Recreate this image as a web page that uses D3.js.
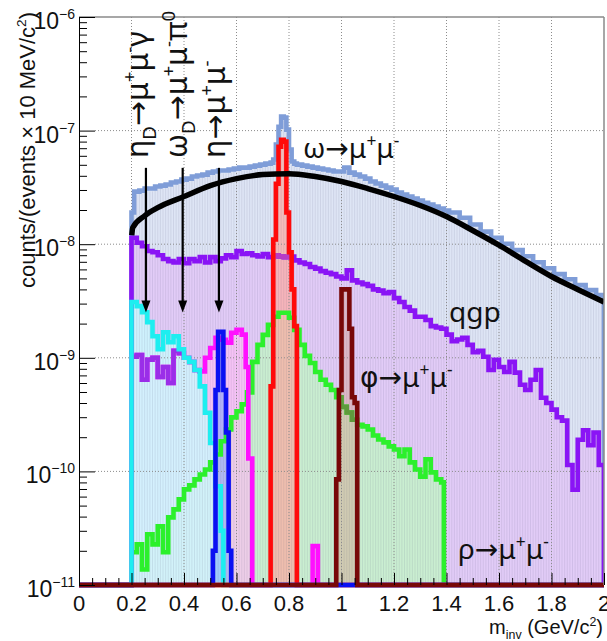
<!DOCTYPE html>
<html><head><meta charset="utf-8">
<script src="https://cdn.jsdelivr.net/npm/d3@7"></script>
<style>body{margin:0;background:#fff}svg{display:block}</style>
</head><body>
<svg id="chart" width="607" height="641"></svg>
<script>
// ---------------- data ----------------
const xTickValues = [0, 0.2, 0.4, 0.6, 0.8, 1.0, 1.2, 1.4, 1.6, 1.8, 2.0];
const xTickLabels = ["0", "0.2", "0.4", "0.6", "0.8", "1", "1.2", "1.4", "1.6", "1.8", "2"];
const yDecades = [1e-11, 1e-10, 1e-9, 1e-8, 1e-7, 1e-6];
const yExponents = ["\u221211", "\u221210", "\u22129", "\u22128", "\u22127", "\u22126"];

// histograms: [lower bin edge, counts]; last entry = upper edge with 0
const totalHist = [[0.20,1.90e-8],[0.21,2.90e-8],[0.23,2.96e-8],[0.25,3.09e-8],[0.27,3.09e-8],[0.29,3.22e-8],[0.31,3.28e-8],[0.33,3.35e-8],[0.35,3.49e-8],[0.37,3.56e-8],[0.39,3.70e-8],[0.41,3.78e-8],[0.43,3.94e-8],[0.45,4.02e-8],[0.47,4.10e-8],[0.49,4.27e-8],[0.51,4.36e-8],[0.53,4.45e-8],[0.55,4.45e-8],[0.57,4.54e-8],[0.59,4.63e-8],[0.61,4.72e-8],[0.63,4.72e-8],[0.65,4.82e-8],[0.67,4.92e-8],[0.69,5.02e-8],[0.71,5.12e-8],[0.73,5.23e-8],[0.74,5.56e-8],[0.75,7.53e-8],[0.76,1.08e-7],[0.77,1.33e-7],[0.78,1.30e-7],[0.79,1.02e-7],[0.80,6.81e-8],[0.81,5.34e-8],[0.82,5.12e-8],[0.83,5.02e-8],[0.85,4.92e-8],[0.87,4.82e-8],[0.89,4.72e-8],[0.91,4.63e-8],[0.93,4.54e-8],[0.95,4.45e-8],[0.97,4.36e-8],[0.99,4.36e-8],[1.01,4.72e-8],[1.03,4.27e-8],[1.05,4.10e-8],[1.07,3.94e-8],[1.09,3.78e-8],[1.11,3.56e-8],[1.13,3.42e-8],[1.15,3.28e-8],[1.17,3.15e-8],[1.19,3.02e-8],[1.21,2.85e-8],[1.23,2.73e-8],[1.25,2.63e-8],[1.27,2.52e-8],[1.29,2.42e-8],[1.31,2.32e-8],[1.33,2.23e-8],[1.35,2.14e-8],[1.37,2.06e-8],[1.39,1.98e-8],[1.41,1.90e-8],[1.45,1.71e-8],[1.49,1.49e-8],[1.53,1.29e-8],[1.57,1.14e-8],[1.61,1.01e-8],[1.65,8.86e-9],[1.69,7.84e-9],[1.73,6.94e-9],[1.77,6.15e-9],[1.81,5.45e-9],[1.85,4.92e-9],[1.89,4.36e-9],[1.93,3.94e-9],[1.97,3.56e-9],[2.00,0]];

const qgpHist = [[0.20,1.14e-8],[0.22,1.03e-8],[0.24,9.6e-9],[0.26,8.7e-9],[0.28,8.5e-9],[0.30,8.0e-9],[0.32,7.4e-9],[0.34,7.1e-9],[0.36,6.9e-9],[0.38,7.4e-9],[0.40,6.8e-9],[0.42,7.4e-9],[0.44,7.1e-9],[0.46,7.7e-9],[0.48,6.9e-9],[0.50,7.7e-9],[0.52,7.1e-9],[0.54,7.5e-9],[0.56,8.0e-9],[0.58,7.7e-9],[0.60,8.7e-9],[0.62,8.2e-9],[0.64,8.3e-9],[0.66,8.0e-9],[0.68,7.8e-9],[0.70,8.2e-9],[0.72,7.7e-9],[0.74,8.0e-9],[0.76,7.8e-9],[0.78,7.7e-9],[0.80,7.8e-9],[0.82,7.2e-9],[0.84,6.9e-9],[0.86,6.7e-9],[0.88,6.3e-9],[0.90,6.1e-9],[0.92,5.8e-9],[0.94,5.6e-9],[0.96,5.45e-9],[0.98,5.2e-9],[1.00,5.0e-9],[1.02,5.9e-9],[1.04,4.8e-9],[1.06,4.6e-9],[1.08,4.45e-9],[1.10,4.3e-9],[1.12,4.0e-9],[1.14,3.9e-9],[1.16,3.7e-9],[1.18,3.8e-9],[1.20,3.35e-9],[1.22,3.1e-9],[1.24,2.8e-9],[1.26,2.6e-9],[1.28,2.3e-9],[1.30,2.3e-9],[1.32,2.15e-9],[1.34,1.9e-9],[1.36,1.85e-9],[1.38,1.8e-9],[1.40,1.6e-9],[1.42,1.4e-9],[1.44,1.45e-9],[1.46,1.5e-9],[1.48,1.3e-9],[1.50,1.12e-9],[1.52,1.15e-9],[1.54,1.02e-9],[1.56,7.8e-10],[1.58,9.6e-10],[1.60,8.3e-10],[1.62,7.5e-10],[1.64,9.2e-10],[1.66,7.4e-10],[1.68,5.8e-10],[1.70,5.2e-10],[1.72,6.4e-10],[1.74,7.8e-10],[1.76,4.45e-10],[1.78,4.0e-10],[1.80,3.5e-10],[1.82,3.0e-10],[1.84,2.8e-10],[1.86,1.14e-10],[1.88,6.9e-11],[1.90,1.9e-10],[1.92,2.3e-10],[1.94,1.7e-10],[1.96,2.2e-10],[1.98,1.14e-10],[2.00,0]];

const rhoHist = [[0.20,1.94e-11],[0.22,2.28e-11],[0.24,1.37e-11],[0.26,2.8e-11],[0.28,2.28e-11],[0.30,3.28e-11],[0.32,1.94e-11],[0.34,3.94e-11],[0.36,4.63e-11],[0.38,5.67e-11],[0.40,6.94e-11],[0.42,7.53e-11],[0.44,8.5e-11],[0.46,9.4e-11],[0.48,1.04e-10],[0.50,1.2e-10],[0.52,1.41e-10],[0.54,1.84e-10],[0.56,2.34e-10],[0.58,2.99e-10],[0.60,3.38e-10],[0.62,3.89e-10],[0.64,4.96e-10],[0.66,9.2e-10],[0.68,1.3e-9],[0.70,1.59e-9],[0.72,1.95e-9],[0.74,2.3e-9],[0.76,2.49e-9],[0.78,2.49e-9],[0.80,2.25e-9],[0.82,1.76e-9],[0.84,1.3e-9],[0.86,1.04e-9],[0.88,9.0e-10],[0.90,7.5e-10],[0.92,6.4e-10],[0.94,5.8e-10],[0.96,5.2e-10],[0.98,4.5e-10],[1.00,3.7e-10],[1.02,3.3e-10],[1.04,2.85e-10],[1.06,2.57e-10],[1.08,2.49e-10],[1.10,2.34e-10],[1.12,2.07e-10],[1.14,1.91e-10],[1.16,1.8e-10],[1.18,1.66e-10],[1.20,1.56e-10],[1.22,1.36e-10],[1.24,1.56e-10],[1.26,1.2e-10],[1.28,1.04e-10],[1.30,9.0e-11],[1.32,1.28e-10],[1.34,9.8e-11],[1.36,8.5e-11],[1.38,8.0e-11],[1.39,0]];

const omegaDalitzHist = [[0.20,1.02e-9],[0.22,1.06e-9],[0.24,6.4e-10],[0.26,9.6e-10],[0.28,1.0e-9],[0.30,6.8e-10],[0.32,8.3e-10],[0.34,6.0e-10],[0.36,1.15e-9],[0.38,1.1e-9],[0.40,1.0e-9],[0.42,9.2e-10],[0.44,7.8e-10],[0.46,7.6e-10],[0.48,1.0e-9],[0.50,1.22e-9],[0.52,1.5e-9],[0.54,1.44e-9],[0.56,1.36e-9],[0.58,1.66e-9],[0.60,1.76e-9],[0.62,1.6e-9],[0.635,8.3e-10],[0.645,1.3e-10],[0.66,0],[0.89,2.2e-11],[0.91,0]];

const etaDalitzHist = [[0.20,3.1e-9],[0.22,2.85e-9],[0.24,2.52e-9],[0.26,2.06e-9],[0.28,1.55e-9],[0.30,1.19e-9],[0.32,1.68e-9],[0.34,1.37e-9],[0.36,1.55e-9],[0.38,1.19e-9],[0.40,1.0e-9],[0.42,9.2e-10],[0.44,7.8e-10],[0.46,5.6e-10],[0.48,3.28e-10],[0.50,1.78e-10],[0.52,7.4e-11],[0.54,3.0e-11],[0.55,0]];

const omegaHist = [[0.73,5.6e-10],[0.74,1.1e-8],[0.75,3.4e-8],[0.76,7.2e-8],[0.77,8.3e-8],[0.78,8.0e-8],[0.79,1.9e-8],[0.80,8.5e-9],[0.81,4.0e-9],[0.82,1.9e-9],[0.83,0]];

const etaHist = [[0.51,2.0e-11],[0.52,5.2e-10],[0.53,1.69e-9],[0.54,1.69e-9],[0.55,5.2e-10],[0.56,2.2e-10],[0.57,2.0e-11],[0.58,0]];

const phiHist = [[0.98,8.5e-11],[0.99,5.2e-10],[1.00,4.0e-9],[1.01,4.0e-9],[1.02,4.0e-9],[1.03,1.8e-9],[1.04,4.5e-10],[1.05,4.0e-10],[1.06,0]];

// smooth fit (black)
const fitX = [0.201,0.205,0.25,0.3,0.4,0.5,0.6,0.7,0.8,0.9,1.0,1.1,1.2,1.3,1.4,1.5,1.6,1.7,1.8,1.9,2.0];
const fitY = [1.2e-8,1.40e-8,1.78e-8,2.10e-8,2.63e-8,3.28e-8,3.78e-8,4.10e-8,4.18e-8,3.94e-8,3.56e-8,3.09e-8,2.63e-8,2.19e-8,1.75e-8,1.32e-8,9.8e-9,7.1e-9,5.2e-9,4.0e-9,3.1e-9];

// arrows (mass positions) for rotated labels
const arrowX = [0.255, 0.395, 0.533];

// ---------------- drawing ----------------
const svg = d3.select("#chart");
const L = 79, R = 604, T = 17, B = 585;
const FLOOR = 1e-11;
const x = d3.scaleLinear().domain([0, 2]).range([L, R]);
const y = d3.scaleLog().domain([1e-11, 1e-6]).range([B, T]);
const clampV = v => Math.max(v, FLOOR);

const defs = svg.append("defs");
defs.append("clipPath").attr("id", "plotClip")
  .append("rect").attr("x", L).attr("y", T).attr("width", R - L).attr("height", B - T + 5);

function stepPoints(h) {
  const pts = [[0, 0], [h[0][0], 0]];
  for (let i = 0; i < h.length - 1; i++) {
    pts.push([h[i][0], h[i][1]]);
    pts.push([h[i + 1][0], h[i][1]]);
  }
  pts.push([h[h.length - 1][0], 0]);
  pts.push([2, 0]);
  return pts;
}
const lineGen = d3.line().x(d => x(d[0])).y(d => y(clampV(d[1])));
const areaGen = d3.area().x(d => x(d[0])).y0(y(FLOOR)).y1(d => y(clampV(d[1])));

const plot = svg.append("g").attr("clip-path", "url(#plotClip)");

const LW = 4.6;
const series = [
  {id: "total", h: totalHist, line: "#7f9dd8", fill: "rgba(186,201,234,0.48)"},
  {id: "qgp", h: qgpHist, line: "#8a14f5", fill: "rgba(232,160,252,0.36)"},
  {id: "rho", h: rhoHist, line: "#2cf02c", fill: "rgba(190,255,190,0.66)"},
  {id: "omegaD", h: omegaDalitzHist, line: "#ff10ff", fill: "rgba(255,190,245,0.66)"},
  {id: "etaD", h: etaDalitzHist, line: "#1eeef0", fill: "rgba(200,255,255,0.74)"},
  {id: "omega", h: omegaHist, line: "#ff0a0a", fill: "rgba(255,170,160,0.70)"},
  {id: "eta", h: etaHist, line: "#0a10f2", fill: "rgba(100,160,255,0.45)"},
  {id: "phi", h: phiHist, line: "#780808", fill: "rgba(215,160,140,0.45)"}
];
const byId = {};
series.forEach(s => { s.pts = stepPoints(s.h); byId[s.id] = s; });

// fills
series.forEach(s => {
  plot.append("path").attr("d", areaGen(s.pts)).attr("fill", s.fill).attr("stroke", "none");
  defs.append("clipPath").attr("id", "clip_" + s.id).append("path").attr("d", areaGen(s.pts));
});

// faint bin-edge stripes of the filled histograms
const stripes = svg.append("g").attr("clip-path", "url(#plotClip)")
  .attr("stroke", "rgba(90,90,130,0.13)").attr("stroke-width", 1);
for (let i = 0; i < totalHist.length - 1; i++) {
  const x0 = totalHist[i][0], x1 = totalHist[i + 1][0];
  for (let v = x0; v < x1 - 1e-9; v += 0.01) {
    stripes.append("line").attr("x1", x(v)).attr("x2", x(v))
      .attr("y1", y(FLOOR)).attr("y2", y(totalHist[i][1]) + 3);
  }
}

// grid
const grid = svg.append("g").attr("stroke", "#8c8c8c").attr("stroke-width", 1).attr("stroke-dasharray", "1,2");
xTickValues.slice(1, -1).forEach(v => grid.append("line").attr("x1", x(v)).attr("x2", x(v)).attr("y1", T).attr("y2", B));
yDecades.slice(1, -1).forEach(v => grid.append("line").attr("x1", L + 16).attr("x2", R).attr("y1", y(v)).attr("y2", y(v)));

// lines (with tinted parts where a line lies under a later, translucent fill)
const lines = svg.append("g").attr("clip-path", "url(#plotClip)");
const tints = {omegaD: [["etaD", "#9a2ee8"]], rho: [["phi", "#5f9a3c"]], qgp: [["omega", "#b83cc4"]]};
series.forEach(s => {
  lines.append("path").attr("d", lineGen(s.pts)).attr("fill", "none")
    .attr("stroke", s.line).attr("stroke-width", LW);
  (tints[s.id] || []).forEach(([over, col]) => {
    lines.append("g").attr("clip-path", `url(#clip_${over})`)
      .append("path").attr("d", lineGen(s.pts)).attr("fill", "none")
      .attr("stroke", col).attr("stroke-width", LW);
  });
});

// fit curve
const fitData = fitX.map((v, i) => [v, fitY[i]]);
lines.append("path").attr("d", d3.line().x(d => x(d[0])).y(d => y(d[1])).curve(d3.curveMonotoneX)(fitData))
  .attr("fill", "none").attr("stroke", "#000").attr("stroke-width", 5.5);

// frame
svg.append("line").attr("x1", L).attr("x2", R).attr("y1", T).attr("y2", T).attr("stroke", "#8a8a8a").attr("stroke-width", 1.5);
svg.append("line").attr("x1", R).attr("x2", R).attr("y1", T).attr("y2", B).attr("stroke", "#8a8a8a").attr("stroke-width", 1.5);

// axes
const minorY = y.ticks().filter(v => !yDecades.some(d => Math.abs(d - v) / d < 1e-6));
const yMajor = svg.append("g").attr("transform", `translate(${L},0)`)
  .call(d3.axisRight(y).tickValues(yDecades).tickSize(16).tickFormat(""));
const yMinor = svg.append("g").attr("transform", `translate(${L},0)`)
  .call(d3.axisRight(y).tickValues(minorY).tickSize(8).tickFormat(""));
[yMajor, yMinor].forEach(g => { g.select(".domain").attr("stroke", "#000"); g.selectAll(".tick line").attr("stroke", "#000"); });
yMinor.select(".domain").remove();

const minorX = d3.range(0, 2.0001, 0.05).filter(v => !xTickValues.some(t => Math.abs(t - v) < 1e-6));
const xMajor = svg.append("g").attr("transform", `translate(0,${B})`)
  .call(d3.axisTop(x).tickValues(xTickValues).tickSize(12).tickFormat(""));
const xMinor = svg.append("g").attr("transform", `translate(0,${B})`)
  .call(d3.axisTop(x).tickValues(minorX).tickSize(7).tickFormat(""));
xMajor.select(".domain").remove(); xMinor.select(".domain").remove();
[xMajor, xMinor].forEach(g => g.selectAll(".tick line").attr("stroke", "#000"));

// tick labels
const axisFont = "'Liberation Sans', Arial, sans-serif";
xTickValues.forEach((v, i) => {
  svg.append("text").attr("x", x(v)).attr("y", 611).attr("text-anchor", "middle")
    .attr("font-family", axisFont).attr("font-size", 22).attr("fill", "#111").text(xTickLabels[i]);
});
yDecades.forEach((v, i) => {
  const t = svg.append("text").attr("x", 75).attr("y", y(v) + 12).attr("text-anchor", "end")
    .attr("font-family", axisFont).attr("font-size", 23).attr("fill", "#111");
  t.append("tspan").text("10");
  t.append("tspan").attr("font-size", 14).attr("dy", -10).text(yExponents[i]);
});

// rich text helper
function rich(g, parts, size) {
  const t = g.append("text").attr("font-size", size);
  let shift = 0;
  parts.forEach(([s, kind, fam]) => {
    const target = kind === "sup" ? -0.4 * size : kind === "sub" ? 0.25 * size : 0;
    const sp = t.append("tspan").text(s).attr("dy", target - shift);
    if (kind) sp.attr("font-size", size * 0.62);
    if (fam) sp.attr("font-family", fam);
    shift = target;
  });
  return t;
}

// axis titles
const xt = svg.append("g").attr("font-family", axisFont).attr("fill", "#111");
rich(xt, [["m", ""], ["inv", "sub"], [" (GeV/c", ""], ["2", "sup"], [")", ""]], 20)
  .attr("x", 603).attr("y", 634).attr("text-anchor", "end");
const yt = svg.append("g").attr("font-family", axisFont).attr("fill", "#111")
  .attr("transform", "translate(35,150) rotate(-90)");
rich(yt, [["counts/(events \u00d7 10 MeV/c", ""], ["2", "sup"], [")", ""]], 22)
  .attr("x", 0).attr("y", 0).attr("text-anchor", "middle");

// physics labels
const labFont = "'Noto Sans', 'DejaVu Sans', sans-serif";
const labels = svg.append("g").attr("font-family", labFont).attr("fill", "#111");
rich(labels.append("g").attr("transform", "translate(303,158)"), [["\u03c9\u2192\u03bc", ""], ["+", "sup"], ["\u03bc", ""], ["-", "sup"]], 28);
rich(labels.append("g").attr("transform", "translate(449,322)"), [["qgp", ""]], 28);
rich(labels.append("g").attr("transform", "translate(360,387)"), [["\u03c6", "", "'DejaVu Sans', sans-serif"], ["\u2192\u03bc", ""], ["+", "sup"], ["\u03bc", ""], ["-", "sup"]], 28);
rich(labels.append("g").attr("transform", "translate(458,559)"), [["\u03c1\u2192\u03bc", ""], ["+", "sup"], ["\u03bc", ""], ["-", "sup"]], 28);

const rotLabels = [
  [[["\u03b7", ""], ["D", "sub"], ["\u2192\u03bc", ""], ["+", "sup"], ["\u03bc", ""], ["-", "sup"], ["\u03b3", ""]], 148],
  [[["\u03c9", ""], ["D", "sub"], ["\u2192\u03bc", ""], ["+", "sup"], ["\u03bc", ""], ["-", "sup"], ["\u03c0", ""], ["0", "sup"]], 187],
  [[["\u03b7\u2192\u03bc", ""], ["+", "sup"], ["\u03bc", ""], ["-", "sup"]], 225]
];
rotLabels.forEach(([parts, bx]) => {
  rich(labels.append("g").attr("transform", `translate(${bx},158) rotate(-90)`), parts, 30);
});

// arrows
const arrows = svg.append("g");
arrowX.forEach(v => {
  const ax = x(v), y0 = y(4.7e-8), y1 = y(2.5e-9);
  arrows.append("line").attr("x1", ax).attr("x2", ax).attr("y1", y0).attr("y2", y1 - 10)
    .attr("stroke", "#000").attr("stroke-width", 2.2);
  arrows.append("path").attr("d", `M${ax - 4.5},${y1 - 12} L${ax + 4.5},${y1 - 12} L${ax},${y1} Z`).attr("fill", "#000");
});
</script>
</body></html>
